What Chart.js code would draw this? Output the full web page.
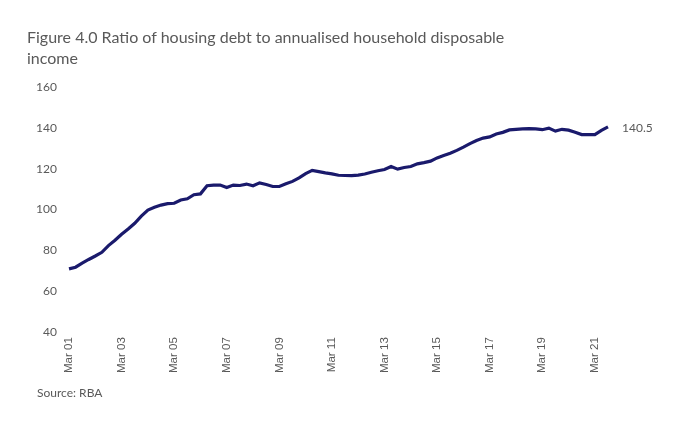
<!DOCTYPE html>
<html>
<head>
<meta charset="utf-8">
<script src="https://cdn.jsdelivr.net/npm/chart.js@4.4.0/dist/chart.umd.min.js"></script>
<style>
  html, body { margin: 0; padding: 0; background: #fff; }
  #wrap { position: relative; width: 674px; height: 427px; overflow: hidden; font-family: Lato, "Open Sans", sans-serif; }
  #title { position: absolute; left: 27px; top: 26px; font-size: 16px; line-height: 21px; color: #595959; }
  #source { position: absolute; left: 37px; top: 385px; font-size: 12px; color: #595959; }
  #box { position: absolute; left: 0; top: 0; width: 674px; height: 427px; }
</style>
</head>
<body>
<div id="wrap">
  <div id="box"><canvas id="debtChart"></canvas></div>
  <div id="title">Figure 4.0 Ratio of housing debt to annualised household disposable<br>income</div>
  <div id="source">Source: RBA</div>
</div>
<script>
// quarterly, Mar 01 .. Sep 21
const quarters = [];
const months = ['Mar', 'Jun', 'Sep', 'Dec'];
for (let y = 1; y <= 21; y++) {
    months.forEach(m => quarters.push(m + ' ' + String(y).padStart(2, '0')));
}
const labels = quarters.slice(0, 83);

const debtToIncome = [
    71.0, 71.8, 73.8, 75.6, 77.3, 79.1, 82.4, 85.0, 87.9, 90.5,
    93.3, 96.8, 99.8, 101.1, 102.2, 102.9, 103.1, 104.7, 105.3, 107.3,
    107.7, 111.7, 112.0, 112.0, 110.8, 112.0, 111.8, 112.5, 111.7, 113.1,
    112.3, 111.3, 111.3, 112.6, 113.8, 115.5, 117.6, 119.2, 118.6, 118.0,
    117.5, 116.8, 116.7, 116.6, 116.9, 117.4, 118.3, 119.0, 119.6, 121.1,
    119.8, 120.6, 121.1, 122.4, 123.0, 123.7, 125.3, 126.5, 127.6, 129.0,
    130.6, 132.3, 133.8, 135.0, 135.6, 137.0, 137.8, 139.0, 139.3, 139.5,
    139.6, 139.5, 139.1, 139.9, 138.4, 139.3, 138.9, 137.9, 136.7, 136.7,
    136.7, 138.8, 140.5
];
const yTicks = [40, 60, 80, 100, 120, 140, 160];

// label on the last point
const endLabel = {
    id: 'endLabel',
    afterDatasetsDraw(chart) {
        const meta = chart.getDatasetMeta(0);
        const pt = meta.data[meta.data.length - 1];
        const ctx = chart.ctx;
        ctx.save();
        ctx.font = '12px Lato, "Open Sans", sans-serif';
        ctx.fillStyle = '#595959';
        ctx.textBaseline = 'middle';
        ctx.fillText(debtToIncome[debtToIncome.length - 1].toFixed(1), pt.x + 14, pt.y + 1);
        ctx.restore();
    }
};

new Chart(document.getElementById('debtChart'), {
    type: 'line',
    data: {
        labels: labels,
        datasets: [{
            data: debtToIncome,
            borderColor: '#1a1a6c',
            borderWidth: 3.2,
            pointRadius: 0,
            tension: 0,
            fill: false
        }]
    },
    options: {
        responsive: true,
        maintainAspectRatio: false,
        animation: false,
        layout: { padding: { left: 29, right: 66, top: 87, bottom: 49 } },
        plugins: { legend: { display: false }, tooltip: { enabled: false } },
        scales: {
            x: {
                grid: { display: false, drawTicks: false },
                border: { display: false },
                ticks: {
                    autoSkip: false,
                    maxRotation: 90,
                    minRotation: 90,
                    padding: 5,
                    color: '#595959',
                    font: { family: '"Liberation Sans", Arial, sans-serif', size: 11.5 },
                    callback(val, i) { return i % 8 === 0 ? labels[i] : ''; }
                }
            },
            y: {
                min: 40,
                max: 160,
                grid: { display: false, drawTicks: false },
                border: { display: false },
                afterFit(s) { s.width = 40; },
                afterBuildTicks(s) { s.ticks = yTicks.map(v => ({ value: v })); },
                ticks: {
                    padding: 12,
                    color: '#595959',
                    font: { family: 'Lato, "Open Sans", sans-serif', size: 12 }
                }
            }
        }
    },
    plugins: [endLabel]
});
</script>
</body>
</html>
